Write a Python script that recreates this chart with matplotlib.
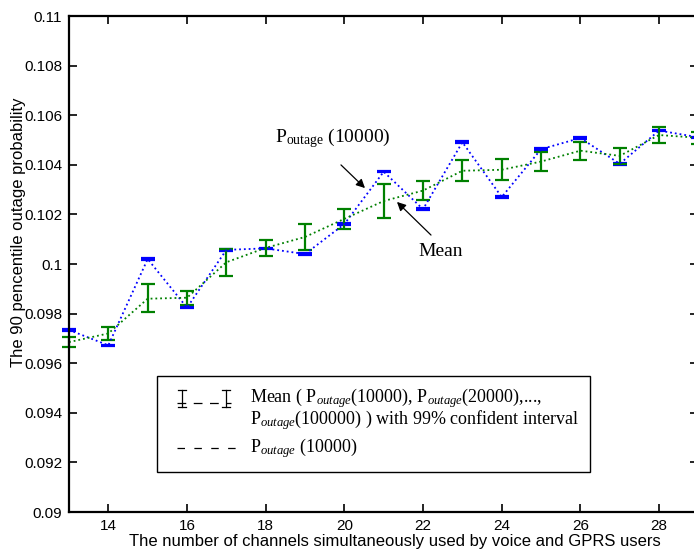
import matplotlib
matplotlib.use("Agg")
import matplotlib.pyplot as plt
from matplotlib.ticker import FuncFormatter
from matplotlib.lines import Line2D
from matplotlib.patches import Rectangle

# data
channels = list(range(13, 30))
p10000 = [0.09734, 0.09672, 0.10020, 0.09824, 0.10057, 0.10063, 0.10040,
          0.10161, 0.10372, 0.10221, 0.10491, 0.10270, 0.10463, 0.10508,
          0.10404, 0.10538, 0.10511]
mean_vals = [0.09685, 0.09720, 0.09860, 0.09864, 0.10007, 0.10065, 0.10109,
             0.10182, 0.10254, 0.10296, 0.10376, 0.10380, 0.10413, 0.10457,
             0.10436, 0.10520, 0.10509]
ci_low = [0.09667, 0.09694, 0.09807, 0.09836, 0.09953, 0.10032, 0.10057,
          0.10142, 0.10187, 0.10258, 0.10335, 0.10340, 0.10376, 0.10418,
          0.10404, 0.10488, 0.10485]
ci_high = [0.09704, 0.09747, 0.09919, 0.09892, 0.10062, 0.10097, 0.10161,
           0.10222, 0.10321, 0.10333, 0.10418, 0.10423, 0.10450, 0.10493,
           0.10468, 0.10552, 0.10533]
xticks = list(range(14, 29, 2))
yticks = [0.09 + 0.002 * i for i in range(11)]

plt.rcParams['font.family'] = ['Liberation Sans', 'DejaVu Sans']
plt.rcParams['mathtext.fontset'] = 'custom'
plt.rcParams['mathtext.rm'] = 'Liberation Serif'
plt.rcParams['mathtext.it'] = 'Liberation Serif:italic'

W, H = 694, 552
fig = plt.figure(figsize=(W / 100, H / 100), dpi=100)
ax = fig.add_axes([69 / W, 40 / H, (698.4 - 69) / W, 496 / H])

def unclip(cont):
    cont[0].set_clip_on(False)
    for a in cont[1]:
        a.set_clip_on(False)
    for a in cont[2]:
        a.set_clip_on(False)

blue = ax.errorbar(channels, p10000, yerr=0.00003, fmt=':', color='#0000ff',
                   lw=1.3, capsize=5, capthick=1.6, elinewidth=1.6)
unclip(blue)
yerr = [[m - l for m, l in zip(mean_vals, ci_low)],
        [h - m for m, h in zip(mean_vals, ci_high)]]
green = ax.errorbar(channels, mean_vals, yerr=yerr, fmt=':', color='#008000',
                    lw=1.3, capsize=5, capthick=1.6, elinewidth=1.6)
unclip(green)

ax.set_xlim(13, 29)
ax.set_ylim(0.09, 0.11)
ax.set_xticks(xticks)
ax.set_yticks(yticks)
ax.yaxis.set_major_formatter(FuncFormatter(lambda v, p: "%g" % round(v, 4)))
ax.tick_params(direction='in', top=True, right=True, length=6, width=1.2,
               labelsize=11, pad=5)
for s in ax.spines.values():
    s.set_linewidth(1.6)
ax.set_xlabel('The number of channels simultaneously used by voice and GPRS users',
              fontsize=12)
ax.set_ylabel('The 90 pencentile outage probability', fontsize=12)
ax.xaxis.set_label_coords(0.518, -0.045)
ax.yaxis.set_label_coords(-0.068, 0.565)

# annotations
serif = 'Liberation Serif'
ax.annotate(r'P$_{\rm outage}$ (10000)', xy=(20.575, 0.102984), xytext=(18.236, 0.105081),
            family=serif, fontsize=14, ha='left', va='center')
ax.annotate('', xy=(20.575, 0.102984), xytext=(19.863, 0.104073),
            arrowprops=dict(arrowstyle='-|>', color='black', lw=0.9, mutation_scale=13))
ax.annotate('', xy=(21.287, 0.102581), xytext=(22.253, 0.101089),
            arrowprops=dict(arrowstyle='-|>', color='black', lw=0.9, mutation_scale=13))
ax.text(22.456, 0.100484, 'Mean', family=serif, fontsize=14, ha='center', va='center')

# hand-made legend box (pixel positions converted to figure fractions)
def fx(px):
    return px / W

def fy(py):
    return 1 - py / H

fig.patches.append(Rectangle((fx(157), fy(472)), fx(590) - fx(157), fy(376) - fy(472),
                             transform=fig.transFigure, fill=True, facecolor='white',
                             edgecolor='black', lw=1.0, zorder=5))
def fline(xs, ys, **kw):
    fig.lines.append(Line2D([fx(x) for x in xs], [fy(y) for y in ys],
                            transform=fig.transFigure, color='black', zorder=6, **kw))

fline([177, 231], [403, 403], lw=0.9, ls=(0, (7, 6)))
for cx in (182, 226):
    fline([cx, cx], [390, 407], lw=0.9)
    fline([cx - 4, cx + 4], [390, 390], lw=0.9)
    fline([cx - 4, cx + 4], [407, 407], lw=0.9)
fline([177, 237], [448, 448], lw=0.9, ls=(0, (6, 7.5)))

fig.text(fx(250), fy(398), r'Mean ( P$_{\mathit{outage}}$(10000), P$_{\mathit{outage}}$(20000),...,',
         family=serif, fontsize=13, va='center', zorder=7)
fig.text(fx(250), fy(420), r'P$_{\mathit{outage}}$(100000) ) with 99% confident interval',
         family=serif, fontsize=13, va='center', zorder=7)
fig.text(fx(250), fy(448), r'P$_{\mathit{outage}}$ (10000)',
         family=serif, fontsize=13, va='center', zorder=7)

fig.savefig('out.png', dpi=100)
